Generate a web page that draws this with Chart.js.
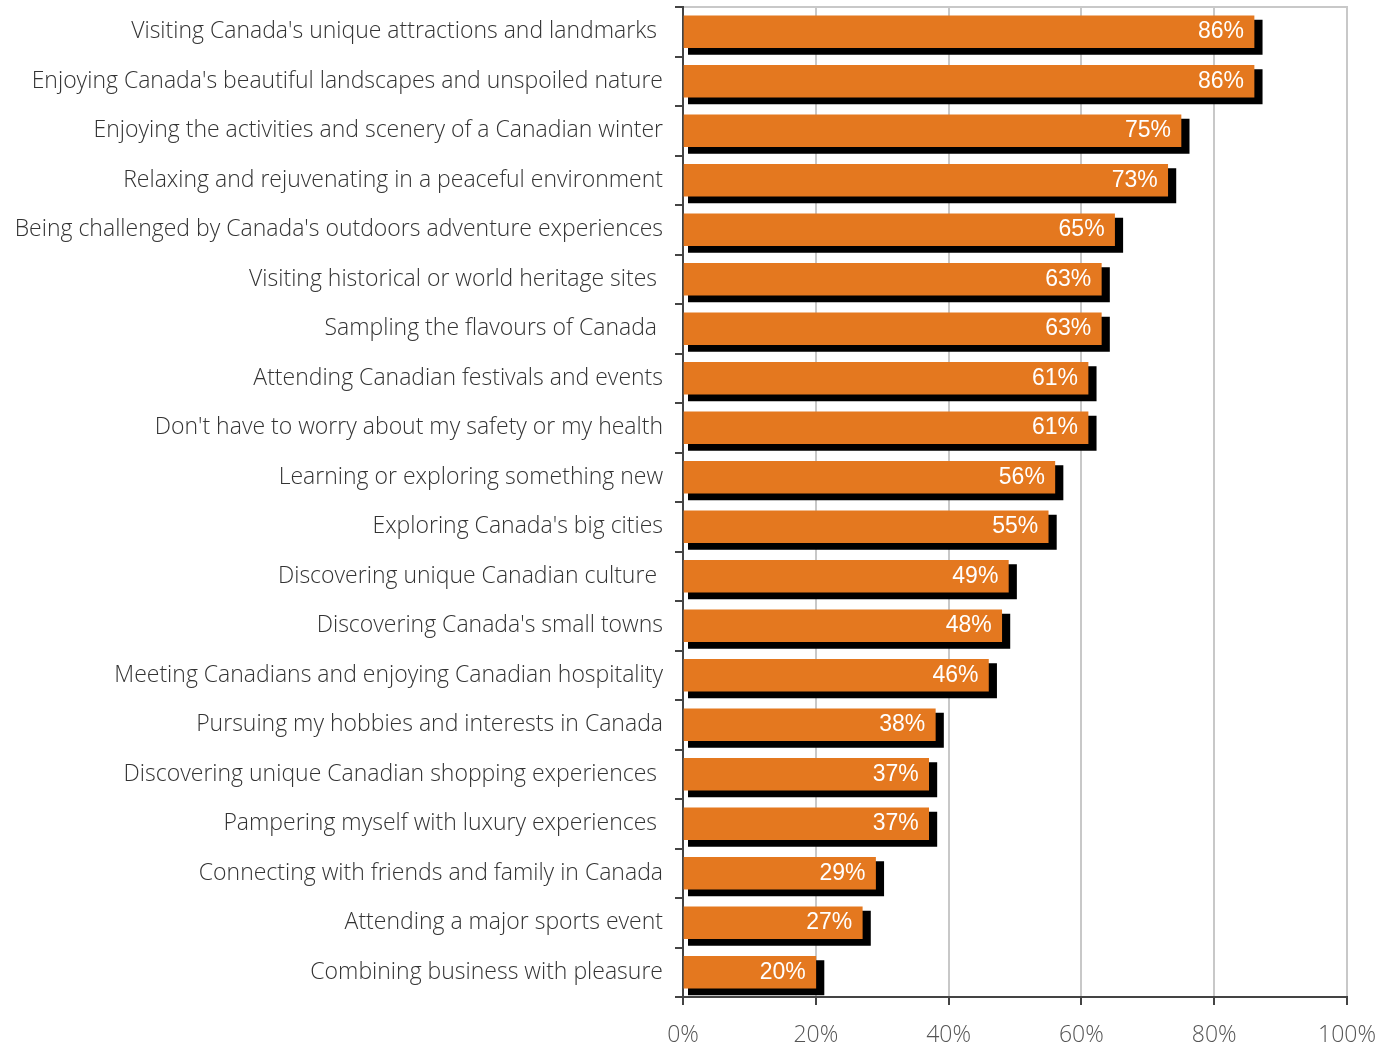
<!DOCTYPE html>
<html>
<head>
<meta charset="utf-8">
<script src="https://cdn.jsdelivr.net/npm/chart.js@4/dist/chart.umd.min.js"></script>
<style>
  html, body { margin: 0; padding: 0; background: #ffffff; }
  #wrap { width: 1395px; height: 1046px; position: relative; }
</style>
</head>
<body>
<div id="wrap"><canvas id="chart" width="1395" height="1046"></canvas></div>
<script>
// Reasons for travelling to Canada, share of respondents (%)
const categories = [
  "Visiting Canada's unique attractions and landmarks ",
  "Enjoying Canada's beautiful landscapes and unspoiled nature",
  "Enjoying the activities and scenery of a Canadian winter",
  "Relaxing and rejuvenating in a peaceful environment",
  "Being challenged by Canada's outdoors adventure experiences",
  "Visiting historical or world heritage sites ",
  "Sampling the flavours of Canada ",
  "Attending Canadian festivals and events",
  "Don't have to worry about my safety or my health",
  "Learning or exploring something new",
  "Exploring Canada's big cities",
  "Discovering unique Canadian culture ",
  "Discovering Canada's small towns",
  "Meeting Canadians and enjoying Canadian hospitality",
  "Pursuing my hobbies and interests in Canada",
  "Discovering unique Canadian shopping experiences ",
  "Pampering myself with luxury experiences ",
  "Connecting with friends and family in Canada",
  "Attending a major sports event",
  "Combining business with pleasure"
];
const shares = [86, 86, 75, 73, 65, 63, 63, 61, 61, 56, 55, 49, 48, 46, 38, 37, 37, 29, 27, 20];
const xTicks = [0, 20, 40, 60, 80, 100];

const LABEL_FONT = "'Open Sans', 'Liberation Sans', sans-serif";
const VALUE_FONT = "'Liberation Sans', 'DejaVu Sans', sans-serif";

// Black drop shadow behind every bar, taken from the bar elements themselves
const barShadow = {
  id: 'barShadow',
  beforeDatasetsDraw(chart) {
    const ctx = chart.ctx;
    const meta = chart.getDatasetMeta(0);
    ctx.save();
    ctx.fillStyle = '#000000';
    meta.data.forEach(bar => {
      const h = bar.height;
      const top = bar.y - h / 2;
      ctx.fillRect(bar.base + 4, top + 4, (bar.x + 8.5) - (bar.base + 4), h + 3);
    });
    ctx.restore();
  }
};

// White percentage labels at the inner end of each bar
const valueLabels = {
  id: 'valueLabels',
  afterDatasetsDraw(chart) {
    const ctx = chart.ctx;
    const meta = chart.getDatasetMeta(0);
    const values = chart.data.datasets[0].data;
    ctx.save();
    ctx.fillStyle = '#ffffff';
    ctx.font = '23px ' + VALUE_FONT;
    ctx.textAlign = 'right';
    ctx.textBaseline = 'middle';
    meta.data.forEach((bar, i) => {
      ctx.fillText(values[i] + '%', bar.x - 10, bar.y);
    });
    ctx.restore();
  }
};

new Chart(document.getElementById('chart'), {
  type: 'bar',
  data: {
    labels: categories,
    datasets: [{
      data: shares,
      backgroundColor: '#E4781F',
      borderWidth: 0,
      barThickness: 32
    }]
  },
  options: {
    indexAxis: 'y',
    responsive: false,
    animation: false,
    layout: { padding: { left: 0, right: 48, top: 0, bottom: 0 } },
    plugins: { legend: { display: false }, tooltip: { enabled: false } },
    scales: {
      x: {
        type: 'linear',
        position: 'bottom',
        min: 0,
        max: 100,
        afterBuildTicks(scale) { scale.ticks = xTicks.map(v => ({ value: v })); },
        afterFit(scale) {
          scale.height = 49;
          scale.paddingLeft = 0;
          scale.paddingRight = 0;
        },
        grid: {
          color: '#c8c8c8',
          lineWidth: 2,
          tickColor: '#444444',
          tickLength: 8,
          tickWidth: 2
        },
        border: { display: true, color: '#444444', width: 2 },
        ticks: {
          color: '#555555',
          font: { family: LABEL_FONT, size: 23, weight: 300 },
          padding: 17,
          callback: v => v + '%'
        }
      },
      x2: {
        type: 'linear',
        position: 'top',
        min: 0,
        max: 100,
        afterFit(scale) {
          scale.height = 7;
          scale.paddingLeft = 0;
          scale.paddingRight = 0;
        },
        grid: { display: false, drawTicks: false },
        ticks: { display: false },
        border: { display: true, color: '#c8c8c8', width: 2 }
      },
      y: {
        type: 'category',
        afterFit(scale) {
          scale.width = 683;
          scale.paddingTop = 0;
          scale.paddingBottom = 0;
        },
        grid: {
          offset: true,
          drawOnChartArea: false,
          color: '#444444',
          lineWidth: 2,
          tickLength: 8
        },
        border: { display: true, color: '#444444', width: 2 },
        ticks: {
          color: '#333333',
          font: { family: LABEL_FONT, size: 23, weight: 300 },
          padding: 12,
          autoSkip: false
        }
      }
    }
  },
  plugins: [barShadow, valueLabels]
});
</script>
</body>
</html>
